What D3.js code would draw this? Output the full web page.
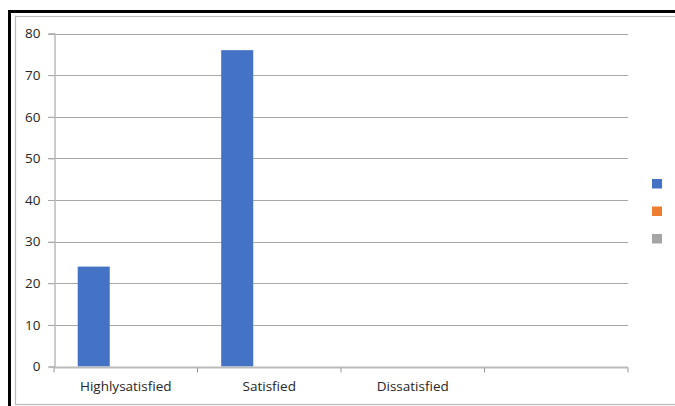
<!DOCTYPE html>
<html>
<head>
  <script src="https://d3js.org/d3.v7.min.js"></script>
  <style>
    body { margin: 0; padding: 0; background: #fff; }
    .axis text {
      font-family: "Open Sans", "Liberation Sans", sans-serif;
      font-size: 13.5px;
      fill: #262626;
    }
  </style>
</head>
<body>
  <div id="chart"></div>
  <script>

    // data
    let categories = ["Highlysatisfied", "Satisfied", "Dissatisfied", ""];
    let series1 = [24, 76, 0, 0];
    let series2 = [0, 0, 0, 0];
    let series3 = [0, 0, 0, 0];
    let yTicks = [0, 10, 20, 30, 40, 50, 60, 70, 80];
    let colors = ["#4472C4", "#ED7D31", "#A5A5A5"];

    let width = 675, height = 406;
    let margin = {top: 33.5, left: 54, right: 47, bottom: 39.5};

    let svg = d3.select("#chart")
      .append("svg")
      .attr("width", width)
      .attr("height", height);

    // outer frame (black edge + thin grey inner border)
    svg.append("rect")
      .attr("x", 9.5).attr("y", 11.5)
      .attr("width", width).attr("height", height)
      .attr("fill", "none").attr("stroke", "#000").attr("stroke-width", 3);
    svg.append("rect")
      .attr("x", 15.5).attr("y", 16.5)
      .attr("width", width).attr("height", 388)
      .attr("fill", "none").attr("stroke", "#bbb").attr("stroke-width", 1.2);

    let xScale = d3.scaleBand()
      .domain(categories.map((d, i) => i))
      .range([margin.left, width - margin.right]);

    let seriesScale = d3.scaleBand()
      .domain([0, 1, 2])
      .range([0, xScale.bandwidth()])
      .paddingOuter(0.74);

    let yScale = d3.scaleLinear()
      .domain([0, 80])
      .range([height - margin.bottom, margin.top]);

    // gridlines
    svg.append("g")
      .selectAll("line")
      .data(yTicks.filter(d => d > 0))
      .join("line")
        .attr("x1", margin.left - 6)
        .attr("x2", width - margin.right)
        .attr("y1", d => Math.round(yScale(d)) + 0.5)
        .attr("y2", d => Math.round(yScale(d)) + 0.5)
        .attr("stroke", "#a8a8a8");

    // y axis
    let yAxis = svg.append("g")
      .attr("class", "axis")
      .attr("transform", `translate(${margin.left + 0.5},0)`)
      .call(d3.axisLeft(yScale).tickValues(yTicks).tickSize(6).tickPadding(8));
    yAxis.select(".domain").attr("stroke", "#bbb").attr("stroke-width", 1.5);
    yAxis.selectAll(".tick line").attr("stroke", "#a8a8a8");

    // bars
    let all = [series1, series2, series3];
    all.forEach(function(values, s) {
      svg.append("g")
        .selectAll("rect")
        .data(values)
        .join("rect")
          .attr("x", (d, i) => xScale(i) + seriesScale(s))
          .attr("y", d => yScale(d))
          .attr("width", seriesScale.bandwidth())
          .attr("height", d => yScale(0) - yScale(d))
          .attr("fill", colors[s]);
    });

    // x axis with category boundary ticks
    let xAxisG = svg.append("g")
      .attr("class", "axis")
      .attr("transform", `translate(0,${Math.round(yScale(0)) + 0.5})`);
    xAxisG.append("line")
      .attr("x1", margin.left).attr("x2", width - margin.right)
      .attr("stroke", "#bbb").attr("stroke-width", 2);
    xAxisG.selectAll(".bound")
      .data(d3.range(categories.length + 1))
      .join("line")
        .attr("class", "bound")
        .attr("x1", i => i < categories.length ? xScale(i) : xScale(i - 1) + xScale.bandwidth())
        .attr("x2", i => i < categories.length ? xScale(i) : xScale(i - 1) + xScale.bandwidth())
        .attr("y1", 0).attr("y2", 5)
        .attr("stroke", "#999");
    xAxisG.selectAll("text")
      .data(categories)
      .join("text")
        .attr("x", (d, i) => xScale(i) + xScale.bandwidth() / 2)
        .attr("y", 23)
        .attr("text-anchor", "middle")
        .text(d => d);

    // legend (markers only)
    svg.append("g")
      .selectAll("rect")
      .data(colors)
      .join("rect")
        .attr("x", 652)
        .attr("y", (d, i) => 179 + i * 27.5)
        .attr("width", 10)
        .attr("height", 9.5)
        .attr("fill", d => d);

  </script>
</body>
</html>
